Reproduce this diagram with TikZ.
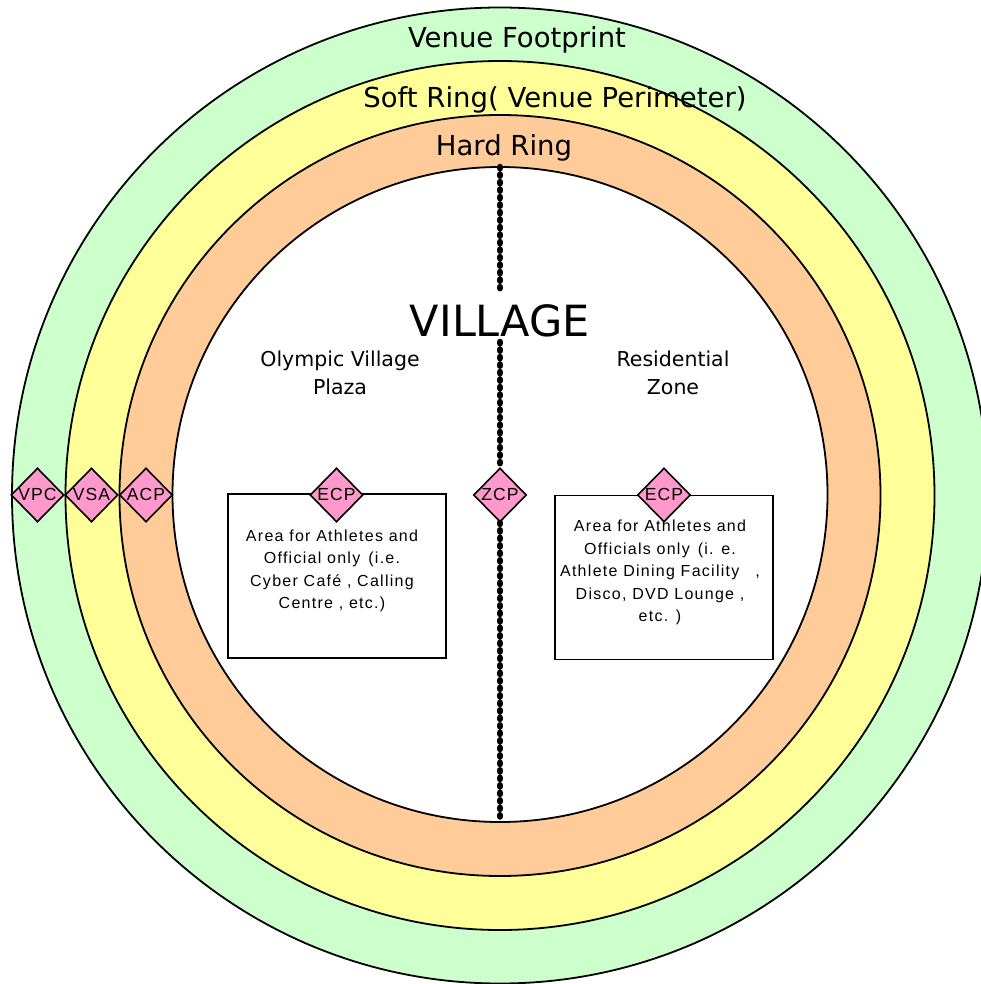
\documentclass[tikz,border=0pt]{standalone}
\usepackage{fontspec}
\usetikzlibrary{shapes.geometric}
\newfontfamily\labfont{DejaVu Sans}
\newfontfamily\boxfont[LetterSpace=8]{Liberation Sans}
\newfontfamily\gatefont[LetterSpace=6]{Liberation Sans}
\definecolor{ringgreen}{HTML}{CCFFCC}
\definecolor{ringyellow}{HTML}{FFFF99}
\definecolor{ringorange}{HTML}{FFCC99}
\definecolor{gatepink}{HTML}{FF99CC}
\tikzset{
  ring/.style={circle, draw=black, line width=1.8pt, inner sep=0pt, outer sep=0pt},
  ringlabel/.style={font=\labfont\fontsize{27.5}{32}\selectfont, inner sep=0pt},
  zonelabel/.style={font=\labfont\fontsize{20.5}{28}\selectfont, align=center, inner sep=0pt},
  gate/.style={diamond, draw=black, fill=gatepink, line width=1.6pt, minimum width=53pt, minimum height=54pt, inner sep=0pt,
    font=\gatefont\fontsize{17.5}{17.5}\selectfont},
  areabox/.style={rectangle, draw=black, fill=white, line width=1.4pt, minimum width=218pt, minimum height=164pt, inner sep=0pt},
  areatext/.style={font=\boxfont\fontsize{16}{22.5}\selectfont, align=center, inner sep=0pt},
  dotline/.style={line width=6.5pt, line cap=round, dash pattern=on 1.2pt off 6.3pt}
}
\begin{document}
\begin{tikzpicture}[x=1pt,y=-1pt]
\useasboundingbox (0,0) rectangle (981,984);
\clip (0,0) rectangle (981,984);
% rings
\node[ring, fill=ringgreen, minimum size=976pt] (footprint) at (500,495.5) {};
\node[ring, fill=ringyellow, minimum size=869pt] (softring) at (500,495.5) {};
\node[ring, fill=ringorange, minimum size=761pt] (hardring) at (500,495.5) {};
\node[ring, fill=white, minimum size=655pt] (village) at (500,494.5) {};
% ring labels
\node[ringlabel] (lfoot) at (517,40) {Venue Footprint};
\node[ringlabel] (lsoft) at (555,100) {Soft Ring( Venue Perimeter)};
\node[ringlabel] (lhard) at (504,148) {Hard Ring};
% village labels
\node[font=\labfont\fontsize{43}{48}\selectfont, inner sep=0pt] (lvillage) at (500,321) {VILLAGE};
\node[zonelabel] (lplaza) at (340,373) {Olympic Village\\Plaza};
\node[zonelabel] (lresid) at (673,373) {Residential\\Zone};
% boxes
\node[areabox] (boxL) at (337,576) {};
\node[areabox] (boxR) at (664,577.5) {};
\node[areatext] (txtL) at (332,571) {Area for Athletes and\\Official only\enspace (i.e.\\Cyber Café , Calling\\Centre , etc.)};
\node[areatext] (txtR) at (660,572.5) {Area for Athletes and\\Officials only\enspace (i. e.\\Athlete Dining Facility\quad ,\\Disco, DVD Lounge ,\\etc. )};
% gates
\node[gate] (vpc) at (37.5,495) {\makebox[0pt]{\raisebox{1.5pt}{VPC}}};
\node[gate] (vsa) at (91.5,495) {\makebox[0pt]{\raisebox{1.5pt}{VSA}}};
\node[gate] (acp) at (146,495) {\makebox[0pt]{\raisebox{1.5pt}{ACP}}};
\node[gate] (ecpL) at (336.5,495) {\makebox[0pt]{\raisebox{1.5pt}{ECP}}};
\node[gate] (zcp) at (500,495) {\makebox[0pt]{\raisebox{1.5pt}{ZCP}}};
\node[gate] (ecpR) at (664,495) {\makebox[0pt]{\raisebox{1.5pt}{ECP}}};
% zone divider
\coordinate (divA) at (500,292);
\coordinate (divB) at (500,342);
\draw[dotline] (village.north) -- (divA);
\draw[dotline] (divB) -- (zcp.north);
\draw[dotline] (zcp.south) -- (village.south);
\end{tikzpicture}
\end{document}
